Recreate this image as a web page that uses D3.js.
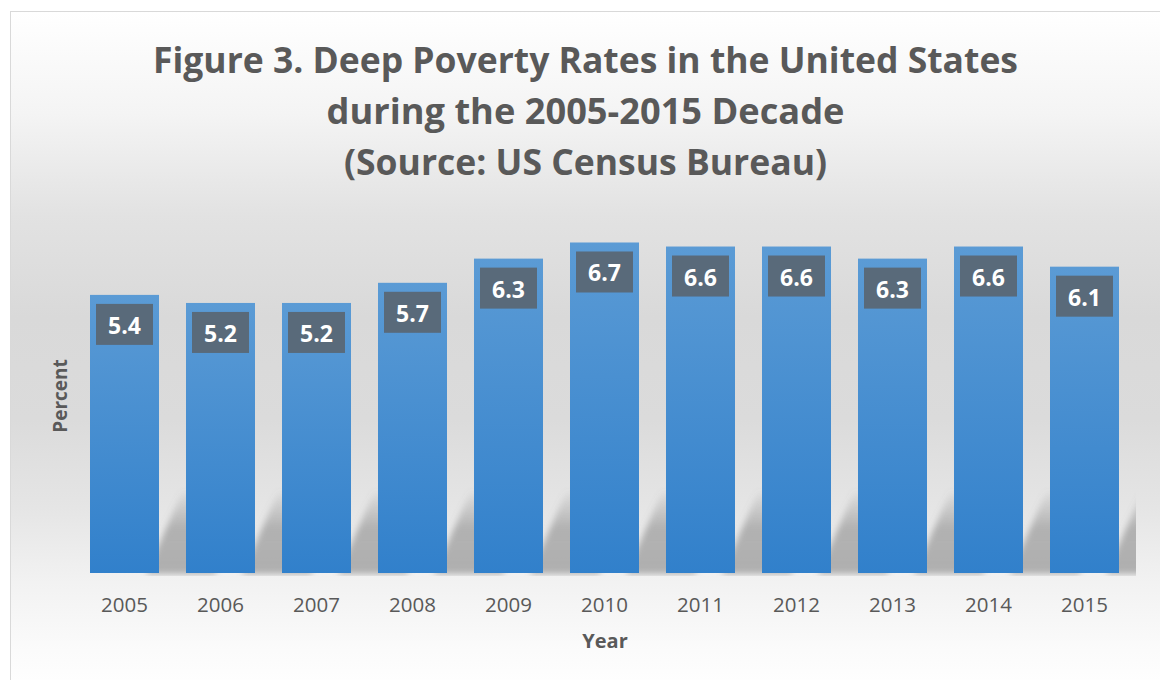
<!DOCTYPE html>
<html>
<head>
<meta charset="utf-8">
<script src="https://cdn.jsdelivr.net/npm/d3@7"></script>
<style>
  body { margin: 0; background: #fff; }
  svg { display: block; }
</style>
</head>
<body>
<div id="vis"></div>
<script>
// deep poverty rates, percent, as labelled on the chart
const years = ["2005", "2006", "2007", "2008", "2009", "2010", "2011", "2012", "2013", "2014", "2015"];
const rates = [5.4, 5.2, 5.2, 5.7, 6.3, 6.7, 6.6, 6.6, 6.3, 6.6, 6.1];

const titleLines = [
  "Figure 3. Deep Poverty Rates in the United States",
  "during the 2005-2015 Decade",
  "(Source: US Census Bureau)"
];

const width = 1160, height = 680;
const baseY = 573;
const textColor = "#595959";

const svg = d3.select("#vis").append("svg")
  .attr("width", width)
  .attr("height", height);

const defs = svg.append("defs");

// chart area background: white -> grey -> white
const bg = defs.append("linearGradient")
  .attr("id", "bg").attr("x1", 0).attr("y1", 0).attr("x2", 0).attr("y2", 1);
[[0, "#ffffff"], [0.15, "#f4f4f4"], [0.3, "#e2e2e2"], [0.45, "#d9d9d9"], [0.6, "#dbdbdb"],
 [0.73, "#e5e5e5"], [0.84, "#f2f2f2"], [0.94, "#fbfbfb"], [1, "#ffffff"]]
  .forEach(s => bg.append("stop").attr("offset", s[0]).attr("stop-color", s[1]));

const barGrad = defs.append("linearGradient")
  .attr("id", "barGrad").attr("x1", 0).attr("y1", 0).attr("x2", 0).attr("y2", 1);
barGrad.append("stop").attr("offset", 0).attr("stop-color", "#5b9bd5");
barGrad.append("stop").attr("offset", 1).attr("stop-color", "#3180cb");

const shadowGrad = defs.append("linearGradient")
  .attr("id", "shadowGrad").attr("x1", 0).attr("y1", 1).attr("x2", 0).attr("y2", 0);
shadowGrad.append("stop").attr("offset", 0).attr("stop-color", "#7a7a7a").attr("stop-opacity", 0.55);
shadowGrad.append("stop").attr("offset", 0.55).attr("stop-color", "#7a7a7a").attr("stop-opacity", 0.5);
shadowGrad.append("stop").attr("offset", 1).attr("stop-color", "#7a7a7a").attr("stop-opacity", 0.05);

defs.append("filter").attr("id", "blur")
  .attr("x", "-20%").attr("y", "-20%").attr("width", "140%").attr("height", "140%")
  .append("feGaussianBlur").attr("stdDeviation", 3);

defs.append("clipPath").attr("id", "plotClip")
  .append("rect").attr("x", 76).attr("y", 0).attr("width", 1060).attr("height", baseY + 3);

svg.append("rect")
  .attr("x", 10.5).attr("y", 11.5)
  .attr("width", width).attr("height", height)
  .attr("fill", "url(#bg)")
  .attr("stroke", "#d9d9d9");

// scales (value axis floor sits below zero in the original chart)
const x = d3.scaleBand()
  .domain(years)
  .range([76.5, 1132.5])
  .paddingInner(0.28125)
  .paddingOuter(0.140625);

const y = d3.scaleLinear()
  .domain([-1.5, 7])
  .range([baseY, 230.4]);

// perspective shadows behind the bars
const shadowDx = 56, shadowSkew = 36, shadowH = 82;
svg.append("g")
  .attr("clip-path", "url(#plotClip)")
  .selectAll("path")
  .data(years)
  .join("path")
  .attr("d", d => {
    const x0 = x(d) + shadowDx, x1 = x0 + x.bandwidth();
    const top = baseY + 1 - shadowH;
    return `M${x0},${baseY + 1}L${x1},${baseY + 1}L${x1 + shadowSkew},${top}L${x0 + shadowSkew},${top}Z`;
  })
  .attr("fill", "url(#shadowGrad)")
  .attr("filter", "url(#blur)");

// bars
svg.append("g")
  .selectAll("rect")
  .data(years)
  .join("rect")
  .attr("x", d => x(d))
  .attr("y", (d, i) => y(rates[i]))
  .attr("width", x.bandwidth())
  .attr("height", (d, i) => baseY - y(rates[i]))
  .attr("fill", "url(#barGrad)");

// value labels
const boxW = 57, boxH = 41;
const labels = svg.append("g")
  .selectAll("g")
  .data(years)
  .join("g")
  .attr("transform", (d, i) => `translate(${x(d) + x.bandwidth() / 2},${y(rates[i]) + 9})`);

labels.append("rect")
  .attr("x", -boxW / 2)
  .attr("width", boxW)
  .attr("height", boxH)
  .attr("fill", "#596a7a");

labels.append("text")
  .attr("y", 30)
  .attr("text-anchor", "middle")
  .attr("fill", "#ffffff")
  .style("font", "bold 23px 'Open Sans', sans-serif")
  .text((d, i) => d3.format(".1f")(rates[i]));

// category axis
const xAxis = svg.append("g")
  .attr("transform", `translate(0,${baseY})`)
  .call(d3.axisBottom(x).tickSize(0).tickPadding(0));
xAxis.select(".domain").remove();
xAxis.selectAll("text")
  .attr("y", 39)
  .attr("dy", null)
  .attr("fill", textColor)
  .style("font", "20.5px 'Open Sans', sans-serif");

// axis titles
svg.append("text")
  .attr("x", 605).attr("y", 648)
  .attr("text-anchor", "middle")
  .attr("fill", textColor)
  .style("font", "bold 20px 'Open Sans', sans-serif")
  .text("Year");

svg.append("text")
  .attr("transform", "translate(67,396) rotate(-90)")
  .attr("text-anchor", "middle")
  .attr("fill", textColor)
  .style("font", "bold 19px 'Open Sans', sans-serif")
  .text("Percent");

// title, squeezed to the width of the original lines
const titleWidths = [865, 518, 483];
const titleBase = [73, 124, 175];
svg.append("g")
  .selectAll("text")
  .data(titleLines)
  .join("text")
  .attr("x", (d, i) => 585.5 - titleWidths[i] / 2)
  .attr("y", (d, i) => titleBase[i])
  .attr("textLength", (d, i) => titleWidths[i])
  .attr("lengthAdjust", "spacingAndGlyphs")
  .attr("fill", textColor)
  .style("font", "bold 36px 'Open Sans', sans-serif")
  .text(d => d);
</script>
</body>
</html>
